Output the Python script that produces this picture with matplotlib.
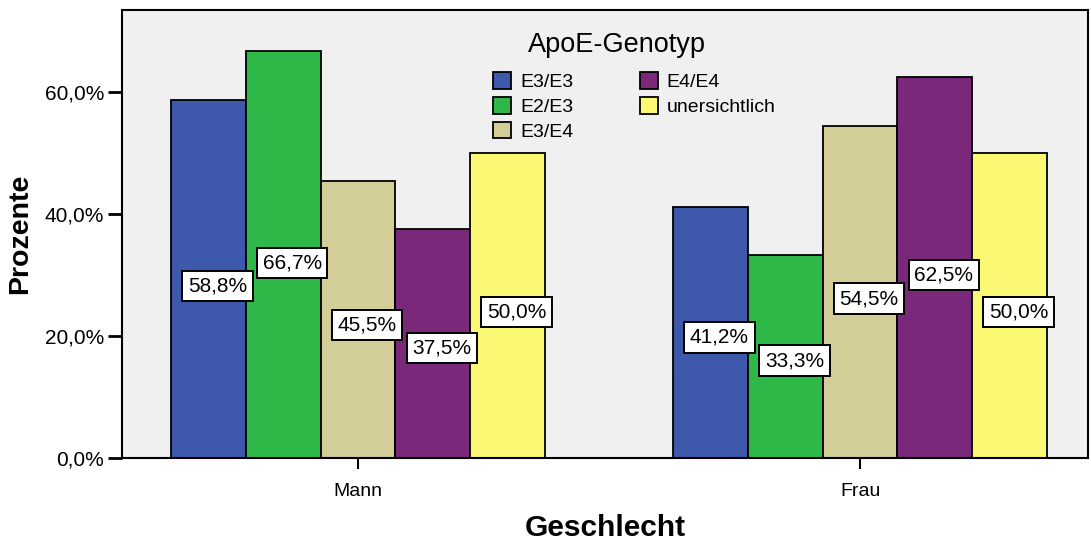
import numpy as np
import matplotlib.pyplot as plt
from matplotlib.patches import Patch
from matplotlib.ticker import FuncFormatter

plt.switch_backend('Agg')
plt.rcParams['font.family'] = ['Liberation Sans', 'DejaVu Sans']

# data
groups = ['Mann', 'Frau']
genotypes = ['E3/E3', 'E2/E3', 'E3/E4', 'E4/E4', 'unersichtlich']
mann = [58.8, 66.7, 45.5, 37.5, 50.0]
frau = [41.2, 33.3, 54.5, 62.5, 50.0]
colors = ['#3E58AC', '#2EB848', '#D3CE97', '#79287A', '#FBF873']

values = np.array([mann, frau])

fig = plt.figure(figsize=(10.91, 5.42), dpi=100)
ax = fig.add_axes([0.1118, 0.155, 0.8855, 0.8265])
ax.set_facecolor('#F0F0F0')

x = np.arange(len(groups))
width = 0.149
n = len(genotypes)

for k in range(n):
    pos = x + (k - (n - 1) / 2) * width
    ax.bar(pos, values[:, k], width=width, color=colors[k],
           edgecolor='black', linewidth=1.3, zorder=2)
    for xi, v in zip(pos, values[:, k]):
        ax.text(xi + 0.018, v * 0.48, f'{v:.1f}%'.replace('.', ','),
                ha='center', va='center', fontsize=15, zorder=4,
                bbox=dict(boxstyle='square,pad=0.27', facecolor='white',
                          edgecolor='black', linewidth=1.4))

ax.set_xlim(-0.47, 1.454)
ax.set_ylim(0, 73.5)
ax.set_xticks(x)
ax.set_xticklabels(groups, fontsize=14)
ax.set_yticks([0, 20, 40, 60])
ax.yaxis.set_major_formatter(FuncFormatter(lambda v, p: f'{v:.1f}%'.replace('.', ',')))
ax.tick_params(axis='y', labelsize=15, length=10, width=2, direction='out', pad=3)
ax.tick_params(axis='x', length=8, width=1.5, direction='out', pad=10)
for s in ax.spines.values():
    s.set_linewidth(1.5)
    s.set_color('black')

ax.set_ylabel('Prozente', fontsize=20.5, fontweight='bold', labelpad=8)
ax.set_xlabel('Geschlecht', fontsize=21.5, fontweight='bold', labelpad=10)

# legend title as separate text so the gap to the entries matches
fig.text(617 / 1091, 1 - 45 / 542, 'ApoE-Genotyp', fontsize=19.5,
         ha='center', va='center')
handles = [Patch(facecolor=c, edgecolor='black', linewidth=1.3) for c in colors]
leg = ax.legend(handles, genotypes, ncol=2, frameon=False,
                fontsize=14, loc='upper left',
                bbox_to_anchor=(0.384, 0.862), handlelength=0.95, handleheight=0.95,
                handletextpad=0.45, labelspacing=0.3, columnspacing=3.4,
                borderaxespad=0, borderpad=0)

fig.savefig('out.png', dpi=100)
